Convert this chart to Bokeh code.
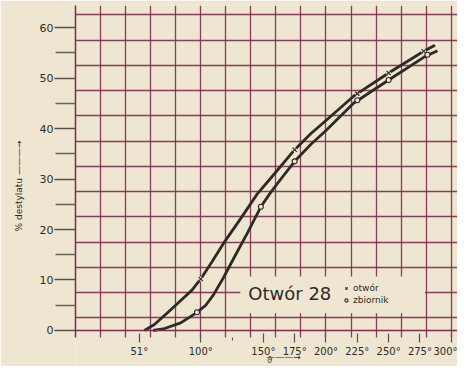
from bokeh.plotting import figure
from bokeh.models import (FixedTicker, Span, BoxAnnotation, Label, Legend, LegendItem)
from bokeh.embed import file_html
from bokeh.resources import INLINE

# ---- data ----
otwor_t = [55, 63, 73, 86, 93, 100, 109, 118, 132, 145, 156, 175, 188, 200, 222, 250, 278, 287]
otwor_v = [0, 1.2, 3.4, 6.4, 8.0, 10.2, 13.6, 17.2, 22.2, 27.0, 30.2, 35.8, 39.0, 41.6, 46.4, 51.0, 55.3, 56.5]

zbiornik_t = [62, 70, 84, 97, 104, 110, 118, 127, 137, 148, 156, 164, 175, 188, 200, 222, 250, 278, 289]
zbiornik_v = [0, 0.3, 1.5, 3.6, 5.0, 7.0, 10.4, 14.6, 19.2, 24.5, 27.4, 30.0, 33.5, 36.9, 39.6, 45.0, 49.6, 54.1, 55.4]

otwor_mark_t = [100, 175, 225, 250, 278]
otwor_mark_v = [10.2, 35.8, 46.9, 51.0, 55.3]
zbiornik_mark_t = [97, 148, 175, 225, 250, 281]
zbiornik_mark_v = [3.6, 24.5, 33.5, 45.6, 49.6, 54.6]

y_ticks = [0, 10, 20, 30, 40, 50, 60]
y_minor = [5, 15, 25, 35, 45, 55]
x_ticks = [51, 100, 150, 175, 200, 225, 250, 275, 300]
x_tick_labels = ["51°", "100°", "150°", "175°", "200°", "225°", "250°", "275°", "300°"]
x_minor = [125]
grid_x = list(range(0, 301, 20))
grid_y = [2.5 + 5 * k for k in range(13)]

# ---- style ----
PAPER = "#EEE6D1"
GRID = "#7B2D4E"
INK = "#2E2B26"
TICK = "#5A514B"
FONT = "DejaVu Sans"
Y_LOW = -7.13      # bottom of the drawing area (room for the axis texts)
Y_AXIS = -1.39     # where the temperature axis sits

p = figure(width=457, height=366, x_range=(0, 305), y_range=(Y_LOW, 64.36),
           output_backend="svg", toolbar_location=None,
           min_border_left=75, min_border_right=0, min_border_top=5, min_border_bottom=0)
p.background_fill_color = PAPER
p.border_fill_color = PAPER
p.outline_line_color = None

# grid (graph paper)
p.xgrid.ticker = FixedTicker(ticks=grid_x)
p.ygrid.ticker = FixedTicker(ticks=grid_y)
for g in (p.xgrid, p.ygrid):
    g.grid_line_color = GRID
    g.grid_line_width = 1.3
    g.grid_line_alpha = 0.9

# strip below the paper grid (hides grid there, stays under the axis)
p.add_layout(BoxAnnotation(left=0, right=305, bottom=Y_LOW, top=Y_AXIS, level="glyph",
                           fill_color=PAPER, fill_alpha=1, line_color=None))

# y axis
ya = p.yaxis[0]
ya.ticker = FixedTicker(ticks=y_ticks, minor_ticks=y_minor)
ya.bounds = (Y_AXIS, 64.36)
ya.axis_line_color = GRID
ya.axis_line_width = 1.5
ya.major_tick_in = 0
ya.major_tick_out = 21
ya.minor_tick_in = 0
ya.minor_tick_out = 20
ya.major_tick_line_color = TICK
ya.minor_tick_line_color = "#6A615B"
ya.major_tick_line_width = 1.5
ya.minor_tick_line_width = 1.5
ya.major_label_standoff = 1
ya.major_label_text_font = FONT
ya.major_label_text_font_size = "11px"
ya.major_label_text_color = INK
ya.axis_label = "% destylatu ———→"
ya.axis_label_text_font = FONT
ya.axis_label_text_font_size = "9px"
ya.axis_label_text_font_style = "normal"
ya.axis_label_text_color = INK
ya.axis_label_standoff = 13

# x axis
xa = p.xaxis[0]
xa.fixed_location = Y_AXIS
xa.ticker = FixedTicker(ticks=x_ticks, minor_ticks=x_minor)
xa.major_label_overrides = {t: lab for t, lab in zip(x_ticks, x_tick_labels)}
xa.axis_line_color = None
xa.major_tick_in = 4
xa.major_tick_out = 5
xa.minor_tick_in = 0
xa.minor_tick_out = 3
xa.major_tick_line_color = TICK
xa.minor_tick_line_color = TICK
xa.major_tick_line_width = 1.2
xa.major_label_standoff = 3
xa.major_label_text_font = FONT
xa.major_label_text_font_size = "10px"
xa.major_label_text_color = INK

# zero line
p.add_layout(Span(location=0, dimension="width", line_color=GRID, line_width=1.5))

# curves
p.line(otwor_t, otwor_v, line_width=2.8, line_color=INK, line_join="round")
p.line(zbiornik_t, zbiornik_v, line_width=2.8, line_color=INK, line_join="round")

bg1 = p.scatter(otwor_mark_t, otwor_mark_v, marker="circle", size=5, fill_color=PAPER, line_color=None)
r1 = p.scatter(otwor_mark_t, otwor_mark_v, marker="x", size=6, line_color=INK, line_width=1.2)
r2 = p.scatter(zbiornik_mark_t, zbiornik_mark_v, marker="circle", size=5, fill_color=PAPER,
               line_color=INK, line_width=1.1)

# caption box
p.add_layout(BoxAnnotation(left=131.6, right=279, bottom=3.4, top=10.7,
                           fill_color=PAPER, fill_alpha=1, line_color=None))
p.add_layout(Label(x=138, y=7.3, text="Otwór 28", text_font=FONT, text_font_size="18px",
                   text_color=INK, text_baseline="middle"))

legend = Legend(items=[LegendItem(label="otwór", renderers=[bg1, r1]),
                       LegendItem(label="zbiornik", renderers=[r2])],
                location=(267, 61), orientation="vertical")
legend.background_fill_alpha = 0
legend.border_line_color = None
legend.padding = 0
legend.margin = 0
legend.spacing = 2
legend.glyph_width = 8
legend.glyph_height = 10
legend.label_height = 10
legend.label_standoff = 3
legend.label_text_font = FONT
legend.label_text_font_size = "9px"
legend.label_text_color = INK
legend.label_text_baseline = "middle"
p.add_layout(legend)

# x-axis label: arrow with symbol below the tick labels
p.add_layout(Label(x=166, y=-5.3, text="———→",
                   text_font=FONT, text_font_size="9px", text_color=INK,
                   text_align="center", text_baseline="middle"))
p.add_layout(Label(x=155, y=-6.93, text="ϑ",
                   text_font=FONT, text_font_size="8px", text_color=INK,
                   text_align="center", text_baseline="bottom"))

open("out.html", "w").write(file_html(p, INLINE))
